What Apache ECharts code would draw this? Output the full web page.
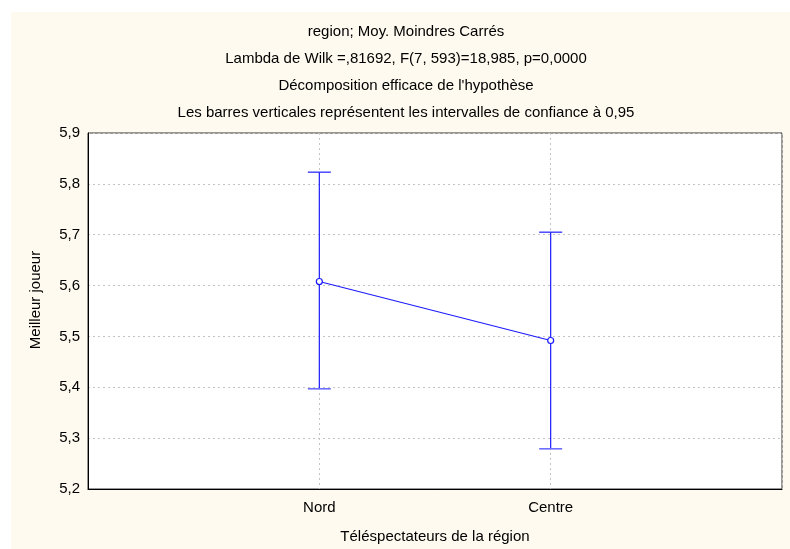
<!DOCTYPE html>
<html>
<head>
<meta charset="utf-8">
<script src="https://cdn.jsdelivr.net/npm/echarts@6/dist/echarts.min.js"></script>
<style>
html,body{margin:0;padding:0;background:#ffffff;}
#c{width:790px;height:549px;}
</style>
</head>
<body>
<div id="c"></div>
<script>
var categories = ['Nord', 'Centre'];
var means = [5.608, 5.492];
var upper = [5.823, 5.705];
var lower = [5.397, 5.279];
var yTicks = [5.2, 5.3, 5.4, 5.5, 5.6, 5.7, 5.8, 5.9];
var titleLines = [
  'region; Moy. Moindres Carrés',
  'Lambda de Wilk =,81692, F(7, 593)=18,985, p=0,0000',
  'Décomposition efficace de l\'hypothèse',
  'Les barres verticales représentent les intervalles de confiance à 0,95'
];
var xAxisName = 'Téléspectateurs de la région';
var yAxisName = 'Meilleur joueur';

var FONT = 'Liberation Sans, Arial, sans-serif';
var BLUE = '#1c1cff';
var chart = echarts.init(document.getElementById('c'), null, {renderer: 'canvas'});

var lineData = means.map(function (m, i) { return [i + 1, m]; });
var errData = means.map(function (m, i) { return [i + 1, lower[i], upper[i]]; });

var titles = titleLines.map(function (t, i) {
  return {
    text: t,
    left: 401,
    top: 19 + i * 27,
    textAlign: 'center',
    textStyle: {fontFamily: FONT, fontSize: 15, fontWeight: 'normal', color: '#000'}
  };
});

chart.setOption({
  animation: false,
  backgroundColor: '#ffffff',
  graphic: [{
    type: 'rect', z: -10, silent: true,
    shape: {x: 11, y: 12, width: 779, height: 537},
    style: {fill: '#fefaef'}
  }, {
    type: 'text', silent: true,
    x: 36, y: 300, rotation: Math.PI / 2,
    style: {text: yAxisName, fontFamily: FONT, fontSize: 15, fill: '#000', align: 'center', verticalAlign: 'middle'}
  }],
  title: titles,
  grid: {left: 88, top: 133, width: 694, height: 356, show: true, backgroundColor: '#ffffff', borderColor: '#333', borderWidth: 1},
  xAxis: {
    type: 'value', min: 0, max: 3, interval: 1,
    name: xAxisName,
    nameLocation: 'middle', nameGap: 40,
    nameTextStyle: {fontFamily: FONT, fontSize: 15, color: '#000'},
    axisLine: {show: true, lineStyle: {color: '#000'}},
    axisTick: {show: false},
    axisLabel: {
      fontFamily: FONT, fontSize: 15, color: '#000', margin: 11,
      formatter: function (v) { return (v >= 1 && v <= categories.length) ? categories[v - 1] : ''; }
    },
    splitLine: {show: true, lineStyle: {color: '#c4c4c4', type: [2, 3]}}
  },
  yAxis: {
    type: 'value', min: 5.2, max: 5.9, interval: 0.1,
    axisLine: {show: true, lineStyle: {color: '#000'}},
    axisTick: {show: false},
    axisLabel: {
      fontFamily: FONT, fontSize: 15, color: '#000', margin: 8,
      formatter: function (v) {
        var best = yTicks.reduce(function (a, b) { return Math.abs(b - v) < Math.abs(a - v) ? b : a; });
        return best.toFixed(1).replace('.', ',');
      }
    },
    splitLine: {show: true, lineStyle: {color: '#c4c4c4', type: [2, 3]}}
  },
  series: [
    {
      type: 'custom',
      data: errData,
      z: 2,
      renderItem: function (params, api) {
        var x = api.value(0);
        var lo = api.coord([x, api.value(1)]);
        var hi = api.coord([x, api.value(2)]);
        var hw = 11.5;
        var st = {stroke: BLUE, lineWidth: 1.2};
        return {
          type: 'group',
          children: [
            {type: 'line', shape: {x1: lo[0], y1: lo[1], x2: hi[0], y2: hi[1]}, style: st},
            {type: 'line', shape: {x1: hi[0] - hw, y1: hi[1], x2: hi[0] + hw, y2: hi[1]}, style: st},
            {type: 'line', shape: {x1: lo[0] - hw, y1: lo[1], x2: lo[0] + hw, y2: lo[1]}, style: {stroke: '#6f6fff', lineWidth: 1.6}}
          ]
        };
      }
    },
    {
      type: 'line',
      data: lineData,
      z: 3,
      symbol: 'circle',
      symbolSize: 6,
      lineStyle: {color: BLUE, width: 1.2},
      itemStyle: {color: '#ffffff', borderColor: BLUE, borderWidth: 1.2}
    }
  ]
});
</script>
</body>
</html>
